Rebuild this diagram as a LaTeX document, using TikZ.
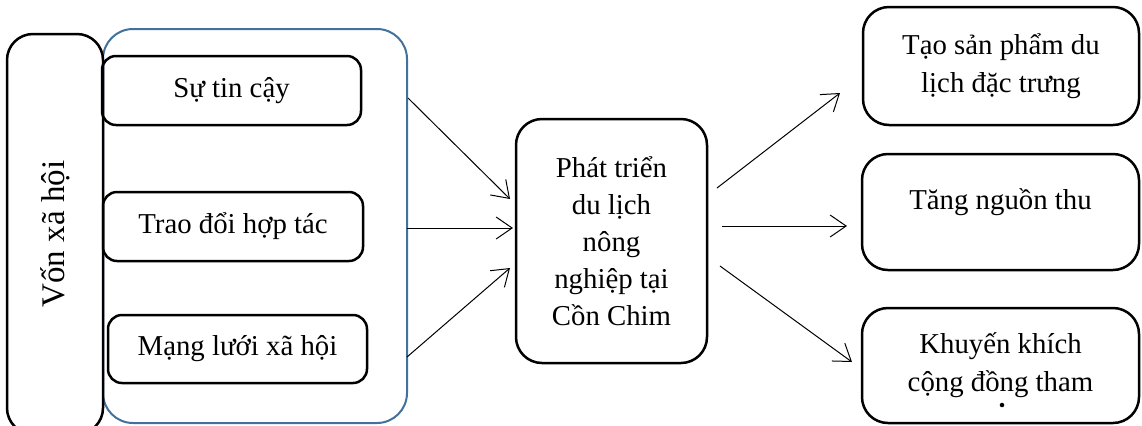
\documentclass[tikz,border=0pt]{standalone}
\usepackage{fontspec}
\setmainfont{Liberation Serif}
\usetikzlibrary{arrows.meta}
\definecolor{frameblue}{RGB}{65,113,156}
\tikzset{
  box/.style={draw, line width=1.25pt, rounded corners=7pt, align=center, inner sep=2pt,
    font=\fontsize{14.4}{19}\selectfont},
  bigbox/.style={box, rounded corners=13pt},
  link/.style={line width=0.5pt, -{Straight Barb[length=8pt,width=11pt]}}
}
\begin{document}
\begin{tikzpicture}[x=0.5pt, y=-0.5pt]
\useasboundingbox (0,0) rectangle (1142,425);
\node[draw=frameblue, line width=1pt, rounded corners=15pt, minimum width=152pt, minimum height=197pt] (group) at (255,226){};
\node[bigbox, rotate=90, minimum width=200pt, minimum height=48pt, font=\fontsize{16.5}{20}\selectfont] (von) at (55,234){Vốn xã hội};
\node[box, minimum width=129.5pt, minimum height=34.5pt] (trust) at (231.5,90.5){Sự tin cậy};
\node[box, minimum width=130pt, minimum height=34.5pt] (coop) at (233,226.5){Trao đổi hợp tác};
\node[box, minimum width=129.5pt, minimum height=34pt] (network) at (237.5,349){Mạng lưới xã hội};
\node[bigbox, minimum width=95.5pt, minimum height=122pt, font=\fontsize{14.4}{18.5}\selectfont] (tour) at (611.5,241){Phát triển\\du lịch\\nông\\nghiệp tại\\Cồn Chim};
\node[bigbox, minimum width=138pt, minimum height=59pt] (product) at (1001,66){Tạo sản phẩm du\\lịch đặc trưng};
\node[bigbox, minimum width=138.5pt, minimum height=58pt, text depth=13pt] (income) at (1000.5,212){Tăng nguồn thu};
\node[bigbox, minimum width=138.5pt, minimum height=57.5pt] (community) at (1000.5,365.5){Khuyến khích\\cộng đồng tham};
\node[circle, fill, inner sep=0.8pt] (dot) at (1002,405){};
\coordinate (s1) at (408,98);
\coordinate (s2) at (407,228);
\coordinate (s3) at (407,357);
\coordinate (e1) at (510,199);
\coordinate (e2) at (513,228);
\coordinate (e3) at (510,268);
\coordinate (r1) at (717,188);
\coordinate (r2) at (722,226);
\coordinate (r3) at (720,266);
\coordinate (t1) at (840,93);
\coordinate (t2) at (847,226);
\coordinate (t3) at (852,362);
\draw[link](s1) -- (e1);
\draw[link](s2) -- (e2);
\draw[link](s3) -- (e3);
\draw[link](r1) -- (t1);
\draw[link](r2) -- (t2);
\draw[link](r3) -- (t3);

\end{tikzpicture}
\end{document}
